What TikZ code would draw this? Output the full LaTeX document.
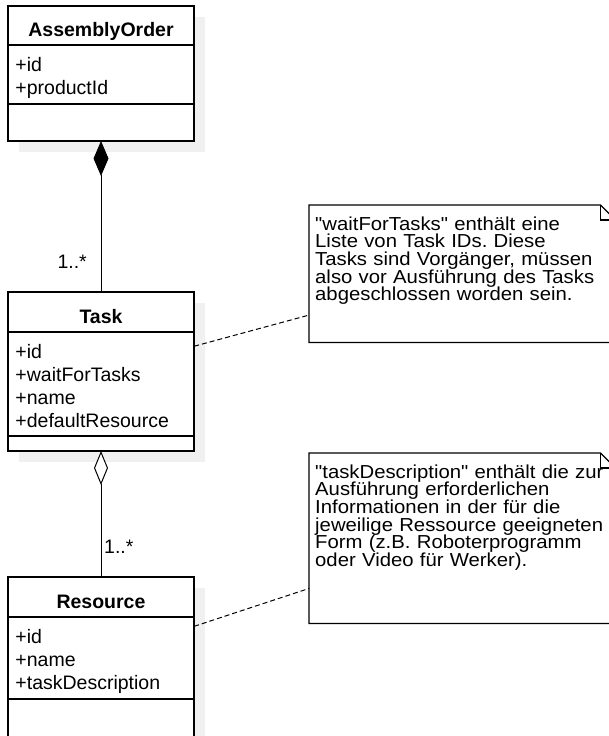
\documentclass[tikz,border=0pt]{standalone}
\usepackage{fontspec}
\setmainfont{Liberation Sans}
\newfontfamily\notefont[FakeStretch=1.08]{Liberation Sans}
\usetikzlibrary{positioning,fit,shadows,arrows.meta}
\definecolor{shadowgray}{gray}{0.94}
\setlength{\lineskiplimit}{-20pt}
\frenchspacing

\begin{document}
\begin{tikzpicture}[x=1pt, y=-1pt,
    cls/.style={draw, fill=white, line width=1.2pt, minimum width=186pt,
      inner sep=0pt, outer sep=0pt,
      drop shadow={shadow xshift=11pt, shadow yshift=-11pt, fill=shadowgray, draw=none, opacity=1}},
    ctitle/.style={cls, minimum height=#1, font=\fontsize{19.5pt}{23pt}\selectfont\bfseries,
      text height=22pt, text depth=0pt},
    attrs/.style={cls, text width=171pt, inner xsep=7.5pt, align=left,
      font=\fontsize{19.5pt}{23pt}\selectfont, text height=26.5pt, text depth=#1},
    ops/.style={cls, minimum height=#1},
    mult/.style={font=\fontsize{19.5pt}{23pt}\selectfont, inner sep=0pt},
    note/.style={anchor=north west, text width=294pt, inner xsep=6pt, inner ysep=0pt,
      minimum width=306pt, align=left, font=\notefont\fontsize{18.8pt}{17.6pt}\selectfont},
    noteline/.style={line width=1pt, dash pattern=on 5pt off 3pt},
    assoc/.style={line width=1pt}]
  \useasboundingbox (0,0) rectangle (609,736);
  % AssemblyOrder
  \node[ctitle=39pt, anchor=north] (aoT) at (101,6) {AssemblyOrder};
  \node[attrs=32.5pt, below=0pt of aoT] (aoA) {+id\\+productId};
  \node[ops=37pt, below=0pt of aoA] (aoM) {};
  % Task
  \node[ctitle=40pt, anchor=north] (taskT) at (101,292) {Task};
  \node[attrs=77.5pt, below=0pt of taskT] (taskA) {+id\\+waitForTasks\\+name\\+defaultResource};
  \node[ops=15pt, below=0pt of taskA] (taskM) {};
  % Resource
  \node[ctitle=40pt, anchor=north] (resT) at (101,577) {Resource};
  \node[attrs=55.5pt, below=0pt of resT] (resA) {+id\\+name\\+taskDescription};
  \node[ops=38pt, below=0pt of resA] (resM) {};
  \node[fit=(taskT)(taskM), inner sep=0pt] (task) {};
  \node[fit=(resT)(resM), inner sep=0pt] (res) {};
  % Komposition und Aggregation
  \draw[assoc, -{Diamond[length=35pt, width=15pt]}] (taskT.north) -- (aoM.south);
  \draw[assoc, -{Diamond[fill=white, length=34pt, width=14pt]}] (resT.north) -- (taskM.south);
  \node[mult, anchor=base east] (aoMult) at (87,268) {1..*};
  \node[mult, anchor=base west] (taskMult) at (104,553) {1..*};
  % Notizen
  \node[note, text height=25pt, text depth=112pt] (waitNote) at (309,205)
    {"waitForTasks" enthält eine\\Liste von Task IDs. Diese\\Tasks sind Vorgänger, müssen\\also vor Ausführung des Tasks\\abgeschlossen worden sein.};
  \node[note, text height=25pt, text depth=145pt] (descNote) at (309,453)
    {"taskDescription" enthält die zur\\Ausführung erforderlichen\\Informationen in der für die\\jeweilige Ressource geeigneten\\Form (z.B. Roboterprogramm\\oder Video für Werker).};
  \foreach \n in {waitNote, descNote} {
    \draw[line width=1.2pt] (\n.south west) -- (\n.north west) -- ([xshift=-15pt]\n.north east)
      -- ([yshift=-15pt]\n.north east) -- (\n.south east) -- cycle;
    \draw[line width=1.2pt] ([xshift=-15pt]\n.north east) |- ([yshift=-15pt]\n.north east);
  }
  \draw[noteline] (task) -- (waitNote);
  \draw[noteline] (res) -- (descNote);
\end{tikzpicture}
\end{document}
